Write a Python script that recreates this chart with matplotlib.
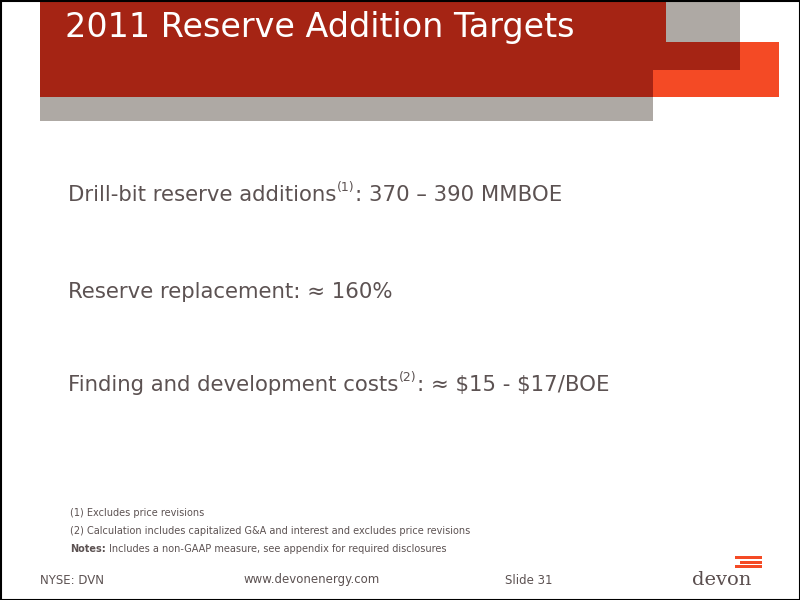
import matplotlib
matplotlib.use('Agg')
import matplotlib.pyplot as plt
from matplotlib.patches import Rectangle

plt.rcParams['text.parse_math'] = False

title = "2011 Reserve Addition Targets"
bullets = [
    ("Drill-bit reserve additions", "(1)", ": 370 \u2013 390 MMBOE"),
    ("Reserve replacement: \u2248 160%", "", ""),
    ("Finding and development costs", "(2)", ": \u2248 $15 - $17/BOE"),
]
bullet_y = [195, 292, 385]
notes = ["(1) Excludes price revisions",
         "(2) Calculation includes capitalized G&A and interest and excludes price revisions"]
footer = ["NYSE: DVN", "www.devonenergy.com", "Slide 31"]

DARK = '#A52414'
ORANGE = '#F44A25'
GREY = '#AEA9A4'
TXT = '#5C5252'

fig = plt.figure(figsize=(8, 6), dpi=100)
ax = fig.add_axes([0, 0, 1, 1])
ax.set_xlim(0, 800)
ax.set_ylim(600, 0)
ax.axis('off')

# header blocks (x, y, w, h) in pixels
for (x, y, w, h, c) in [(40, 0, 613, 121, GREY), (666, 0, 74, 42, GREY),
                        (653, 42, 126, 55, ORANGE),
                        (40, 0, 626, 42, DARK), (40, 42, 613, 55, DARK),
                        (653, 42, 87, 28, DARK)]:
    ax.add_patch(Rectangle((x, y), w, h, color=c, lw=0))
ax.add_patch(Rectangle((0.5, 0.5), 799, 599, fill=False, ec='black', lw=1.5))

ax.text(65, 27, title, color='white', fontsize=24, va='center', ha='left')

fig.canvas.draw()
r = fig.canvas.get_renderer()
for (a, sup, b), y in zip(bullets, bullet_y):
    t = ax.text(68, y, a, color=TXT, fontsize=15.3, va='center')
    x1 = ax.transData.inverted().transform(t.get_window_extent(r))[1][0]
    if sup:
        s = ax.text(x1 + 1, y - 8, sup, color=TXT, fontsize=9, va='center')
        x1 = ax.transData.inverted().transform(s.get_window_extent(r))[1][0]
        ax.text(x1, y, b, color=TXT, fontsize=15.3, va='center')

for i, n in enumerate(notes):
    ax.text(70, 513 + 18 * i, n, color=TXT, fontsize=7, va='center')
t = ax.text(70, 549, "Notes:", color=TXT, fontsize=7, va='center', weight='bold')
x1 = ax.transData.inverted().transform(t.get_window_extent(r))[1][0]
ax.text(x1 + 3, 549, "Includes a non-GAAP measure, see appendix for required disclosures",
        color=TXT, fontsize=7, va='center')

for x, s in zip([40, 243, 505], footer):
    ax.text(x, 580, s, color=TXT, fontsize=8.5, va='center')

# devon logo
ax.text(722, 580, "devon", color='#5A4E4E', fontsize=14, family='DejaVu Serif',
        ha='center', va='center')
for (x0, y0) in [(735, 556), (740, 560.5), (735, 565)]:
    ax.add_patch(Rectangle((x0, y0), 762 - x0, 3, color=ORANGE, lw=0))

fig.savefig('out.png', dpi=100)
